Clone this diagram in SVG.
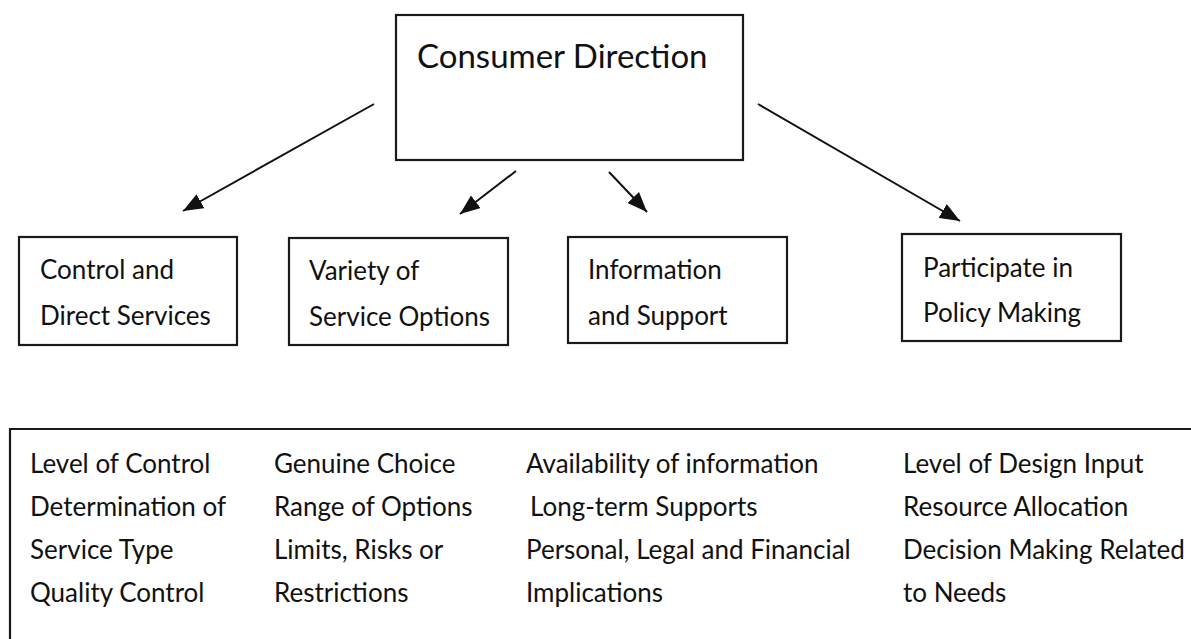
<svg xmlns="http://www.w3.org/2000/svg" width="1191" height="639" viewBox="0 0 1191 639">
  <style>
    .box { fill: #ffffff; stroke: #1a1a1a; stroke-width: 2.2; }
    .label { font-family: Lato, "Open Sans", "Liberation Sans", sans-serif; fill: #111111; }
    .title { font-size: 33px; }
    .item { font-size: 26px; }
    .conn { stroke: #111111; stroke-width: 2; fill: none; marker-end: url(#head); }
  </style>
  <defs>
    <marker id="head" viewBox="0 0 20 16" refX="20" refY="8" markerWidth="20" markerHeight="16" markerUnits="userSpaceOnUse" orient="auto">
      <path d="M0,0 L20,8 L0,16 Z" fill="#111111"/>
    </marker>
  </defs>
  <rect width="1191" height="639" fill="#ffffff"/>

  <!-- top node -->
  <g id="consumer-direction">
    <rect class="box" x="396" y="15" width="347" height="145"/>
    <text class="label title" x="417" y="68">Consumer Direction</text>
  </g>

  <!-- connectors -->
  <g id="connectors">
    <line class="conn" x1="374" y1="104" x2="183" y2="211"/>
    <line class="conn" x1="516" y1="171" x2="460" y2="214"/>
    <line class="conn" x1="609" y1="172" x2="647" y2="212"/>
    <line class="conn" x1="758" y1="104" x2="960" y2="221"/>
  </g>

  <!-- second-level nodes -->
  <g id="control-direct-services">
    <rect class="box" x="19" y="237" width="218" height="108"/>
    <text class="label item" x="40" y="279">Control and</text>
    <text class="label item" x="40" y="325">Direct Services</text>
  </g>
  <g id="variety-service-options">
    <rect class="box" x="289" y="238" width="219" height="107"/>
    <text class="label item" x="309" y="280">Variety of</text>
    <text class="label item" x="309" y="326">Service Options</text>
  </g>
  <g id="information-support">
    <rect class="box" x="568" y="237" width="219" height="106"/>
    <text class="label item" x="588" y="279">Information</text>
    <text class="label item" x="588" y="325">and Support</text>
  </g>
  <g id="policy-making">
    <rect class="box" x="902" y="234" width="219" height="107"/>
    <text class="label item" x="923" y="277">Participate in</text>
    <text class="label item" x="923" y="322">Policy Making</text>
  </g>

  <!-- details panel -->
  <g id="details">
    <path d="M1191,429 H10 V639" fill="none" stroke="#1a1a1a" stroke-width="2.2"/>
    <text class="label item" x="30" y="473">Level of Control</text>
    <text class="label item" x="30" y="516">Determination of</text>
    <text class="label item" x="30" y="559">Service Type</text>
    <text class="label item" x="30" y="602">Quality Control</text>

    <text class="label item" x="274" y="473">Genuine Choice</text>
    <text class="label item" x="274" y="516">Range of Options</text>
    <text class="label item" x="274" y="559">Limits, Risks or</text>
    <text class="label item" x="274" y="602">Restrictions</text>

    <text class="label item" x="526" y="473">Availability of information</text>
    <text class="label item" x="530" y="516">Long-term Supports</text>
    <text class="label item" x="526" y="559">Personal, Legal and Financial</text>
    <text class="label item" x="526" y="602">Implications</text>

    <text class="label item" x="903" y="473">Level of Design Input</text>
    <text class="label item" x="903" y="516">Resource Allocation</text>
    <text class="label item" x="903" y="559">Decision Making Related</text>
    <text class="label item" x="903" y="602">to Needs</text>
  </g>
</svg>
